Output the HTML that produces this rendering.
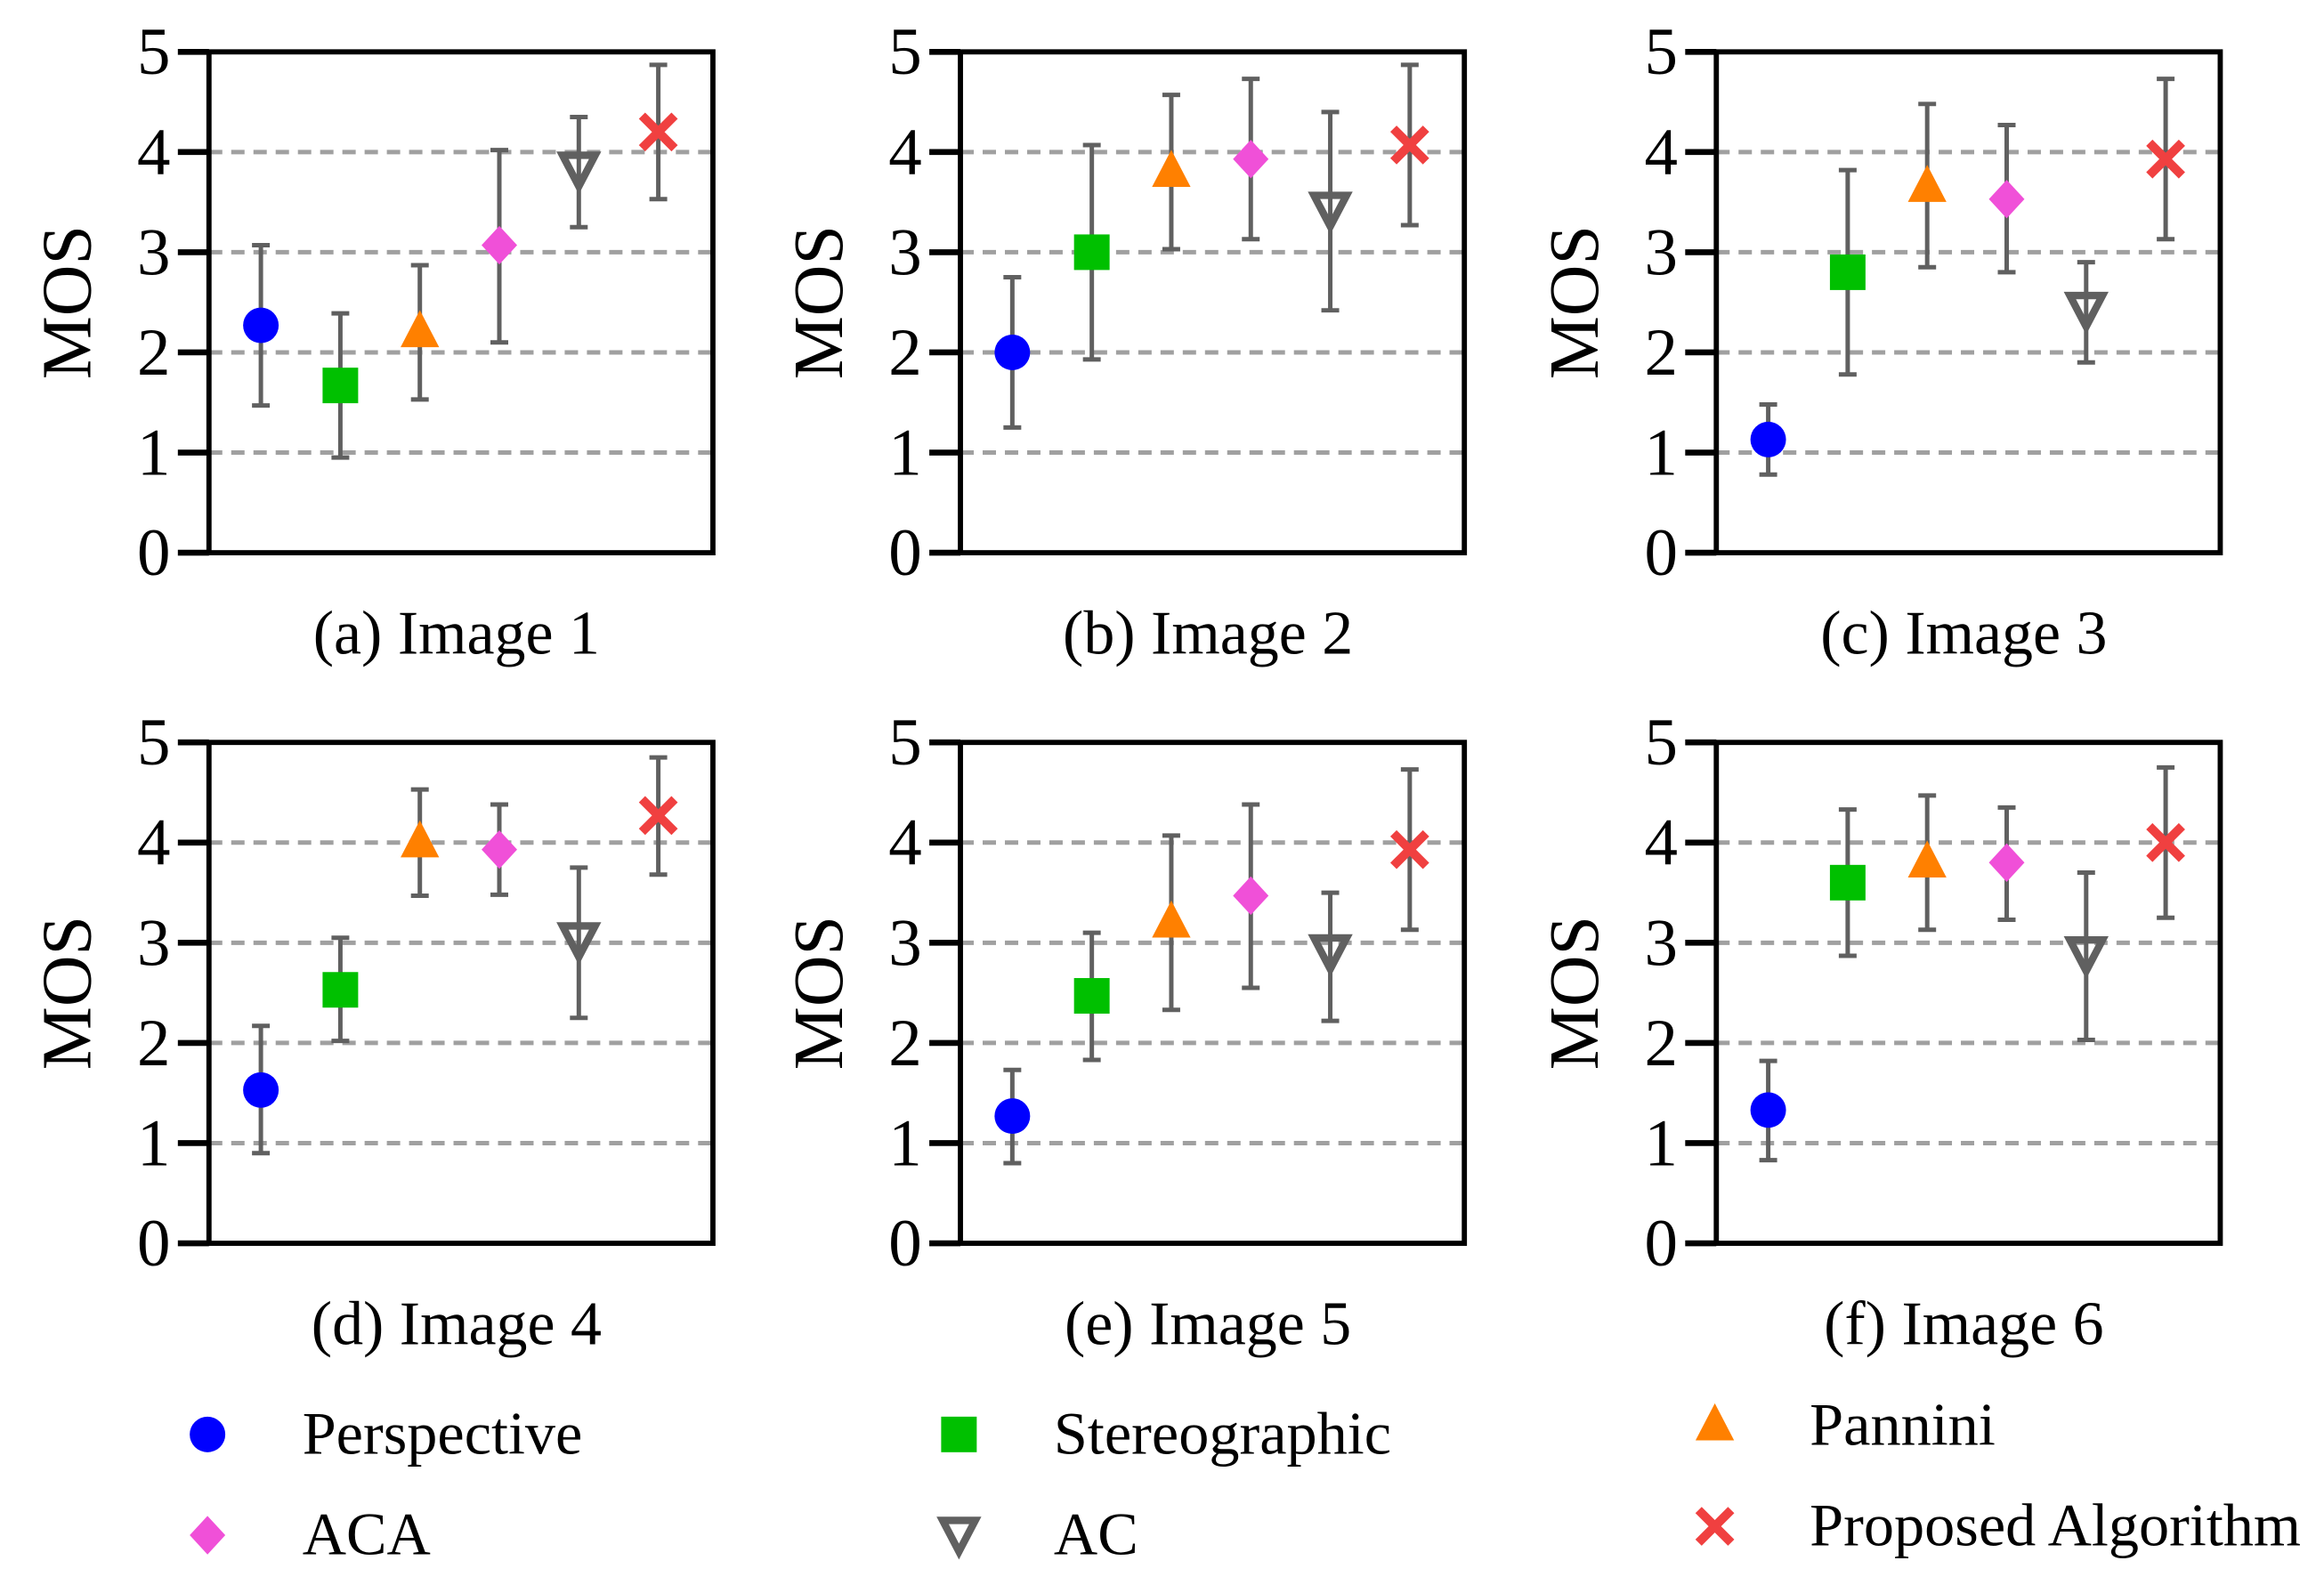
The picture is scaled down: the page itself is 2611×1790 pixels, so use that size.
<!DOCTYPE html>
<html><head><meta charset="utf-8"><style>
html,body{margin:0;padding:0;background:#fff;}
svg{display:block;}
text{font-family:"Liberation Serif",serif;fill:#000;}
</style></head><body>
<svg id="chart" width="2611" height="1790" viewBox="0 0 1568 1075" preserveAspectRatio="none" xmlns="http://www.w3.org/2000/svg"></svg>
<script>
const methods = ["Perspective","Stereographic","Pannini","ACA","AC","Proposed Algorithm"];
const panelTitles = ["(a) Image 1","(b) Image 2","(c) Image 3","(d) Image 4","(e) Image 5","(f) Image 6"];
const yTicks = [0,1,2,3,4,5];
const meanA = [2.27,1.67,2.2,3.07,3.82,4.2];
const lowA  = [1.47,0.95,1.53,2.1,3.25,3.53];
const highA = [3.07,2.39,2.87,4.02,4.35,4.87];
const meanB = [2.0,3.0,3.8,3.93,3.42,4.07];
const lowB  = [1.25,1.93,3.03,3.13,2.42,3.27];
const highB = [2.75,4.07,4.57,4.73,4.4,4.87];
const meanC = [1.13,2.8,3.65,3.53,2.42,3.93];
const lowC  = [0.78,1.78,2.85,2.8,1.9,3.13];
const highC = [1.48,3.82,4.48,4.27,2.9,4.73];
const meanD = [1.53,2.53,4.0,3.93,3.02,4.27];
const lowD  = [0.9,2.02,3.47,3.48,2.25,3.68];
const highD = [2.17,3.05,4.53,4.38,3.75,4.85];
const meanE = [1.27,2.47,3.2,3.47,2.9,3.93];
const lowE  = [0.8,1.83,2.33,2.55,2.22,3.13];
const highE = [1.73,3.1,4.07,4.38,3.5,4.73];
const meanF = [1.33,3.6,3.8,3.8,2.88,4.0];
const lowF  = [0.83,2.87,3.13,3.23,2.03,3.25];
const highF = [1.82,4.33,4.47,4.35,3.7,4.75];
const means=[meanA,meanB,meanC,meanD,meanE,meanF];
const lows=[lowA,lowB,lowC,lowD,lowE,lowF];
const highs=[highA,highB,highC,highD,highE,highF];

const NS="http://www.w3.org/2000/svg";
const svg=document.getElementById('chart');
function mk(tag,attrs,parent){const e=document.createElementNS(NS,tag);for(const k in attrs)e.setAttribute(k,attrs[k]);(parent||svg).appendChild(e);return e;}
const colors=["#0000ff","#00c000","#ff8000","#f050d8","#606060","#f04040"];
function marker(g,i,cx,cy,s){
  let e;
  if(i===0) e=mk('circle',{cx:cx,cy:cy,r:12*s,fill:colors[0]},g);
  else if(i===1) e=mk('rect',{x:cx-12*s,y:cy-12*s,width:24*s,height:24*s,fill:colors[1]},g);
  else if(i===2) e=mk('polygon',{points:`${cx},${cy-15*s} ${cx-13*s},${cy+10*s} ${cx+13*s},${cy+10*s}`,fill:colors[2]},g);
  else if(i===3) e=mk('polygon',{points:`${cx},${cy-13*s} ${cx+12*s},${cy} ${cx},${cy+13*s} ${cx-12*s},${cy}`,fill:colors[3]},g);
  else if(i===4) e=mk('polygon',{points:`${cx-11*s},${cy-10*s} ${cx+11*s},${cy-10*s} ${cx},${cy+11*s}`,fill:"none",stroke:colors[4],'stroke-width':5*s,'stroke-linejoin':'miter'},g);
  else { e=mk('path',{d:`M${cx-11*s},${cy-11*s}L${cx+11*s},${cy+11*s}M${cx+11*s},${cy-11*s}L${cx-11*s},${cy+11*s}`,stroke:colors[5],'stroke-width':6*s,fill:'none'},g); }
  return e;
}
const lefts=[141,648,1158], tops=[35,501], W=340, H=338;
for(let p=0;p<6;p++){
  const L=lefts[p%3], T=tops[Math.floor(p/3)], B=T+H;
  const g=mk('g',{});
  
  
  const y=v=>B-v*(H/5);
  const x=i=>L+(i+1-0.347)*(W/6.34);
  yTicks.forEach(t=>{
    if(t>0&&t<5){const gl=mk('line',{x1:L,x2:L+W,y1:y(t),y2:y(t),stroke:'#a0a0a0','stroke-width':3,'stroke-dasharray':'9,6'},g);
      }
    const tk=mk('line',{x1:L-21,x2:L,y1:y(t),y2:y(t),stroke:'#000','stroke-width':4},g);
    
    const tl=mk('text',{x:L-26,y:y(t)+15,'font-size':45,'text-anchor':'end'},g);tl.textContent=t;
    
  });
  const fr=mk('rect',{x:L,y:T,width:W,height:H,fill:'none',stroke:'#000','stroke-width':3.5},g);
  
  const yl=mk('text',{x:0,y:0,'font-size':48,'text-anchor':'middle',transform:`translate(${L-80},${T+H/2}) rotate(-90)`},g);
  yl.textContent='MOS';
  const st=mk('text',{x:L+167,y:B+68,'font-size':42,'text-anchor':'middle'},g);
  st.textContent=panelTitles[p];
  for(let i=0;i<6;i++){
    const cx=x(i);
    const eb=mk('path',{d:`M${cx},${y(lows[p][i])}L${cx},${y(highs[p][i])}M${cx-6},${y(lows[p][i])}L${cx+6},${y(lows[p][i])}M${cx-6},${y(highs[p][i])}L${cx+6},${y(highs[p][i])}`,stroke:'#606060','stroke-width':3,fill:'none'},g);
    
    const m=marker(g,i,cx,y(means[p][i]),1);
    
    
  }
}
const legX=[140,647,1157], legTX=[204,711,1221], legY=[[968,1036],[968,1036],[962,1030]];
const order=[[0,3],[1,4],[2,5]];
for(let c=0;c<3;c++)for(let r=0;r<2;r++){
  const i=order[c][r];
  const g=mk('g',{});
  
  
  marker(g,i,legX[c],legY[c][r],1);
  const t=mk('text',{x:legTX[c],y:legY[c][r]+13,'font-size':41},g);t.textContent=methods[i];
}
</script>
</body></html>
